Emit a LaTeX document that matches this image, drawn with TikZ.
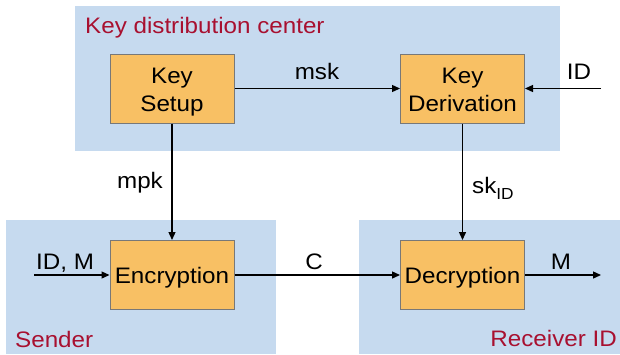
\documentclass[tikz,border=0pt]{standalone}
\usepackage{fontspec}
\setmainfont{Liberation Sans}[FakeStretch=1.08]
\usetikzlibrary{arrows.meta}
\definecolor{bgblue}{RGB}{198,218,239}
\definecolor{boxorange}{RGB}{248,192,100}
\definecolor{boxgray}{RGB}{120,120,120}
\definecolor{titlered}{RGB}{168,16,48}
\tikzset{
  procbox/.style={draw=boxgray, fill=boxorange, line width=1pt, minimum width=124pt, minimum height=69pt, inner sep=0pt},
  boxtext/.style={inner sep=0pt, anchor=base, text=black},
  grouptitle/.style={text=titlered, inner sep=0pt},
  lbl/.style={inner sep=0pt, text=black},
  arr/.style={-{Triangle[length=8pt,width=7pt]}, line width=1.3pt},
  area/.style={fill=bgblue}
}
\begin{document}
\begin{tikzpicture}[x=1pt,y=-1pt, font=\fontsize{22.4}{27}\selectfont]
\useasboundingbox (0,0) rectangle (620,354);
% group areas
\fill[area] (75,6) rectangle (560,151);
\fill[area] (6,220) rectangle (276,354);
\fill[area] (359,220) rectangle (620,354);
% titles
\node[grouptitle, anchor=base west] (kdc) at (85,33.3) {Key distribution center};
\node[grouptitle, anchor=base west] (sender) at (15,347) {Sender};
\node[grouptitle, anchor=base east] (receiver) at (617,346.5) {Receiver ID};
% process boxes
\node[procbox] (setup) at (172,88.5) {};
\node[procbox] (deriv) at (462.5,88.5) {};
\node[procbox] (enc) at (172,275) {};
\node[procbox] (dec) at (462.5,275) {};
% box texts
\node[boxtext] (setupA) at (172,83.3) {Key};
\node[boxtext] (setupB) at (172,111) {Setup};
\node[boxtext] (derivA) at (462.5,83.3) {Key};
\node[boxtext] (derivB) at (462.5,111) {Derivation};
\node[boxtext] (enctxt) at (172,283) {Encryption};
\node[boxtext] (dectxt) at (462.5,283) {Decryption};
% free ends
\coordinate (idin) at (601,88.5);
\coordinate (idmin) at (34,275);
\coordinate (mout) at (601,275);
% connectors
\draw[arr] (setup) -- (deriv);
\draw[arr] (idin) -- (deriv);
\draw[arr] (setup) -- (enc);
\draw[arr] (deriv) -- (dec);
\draw[arr] (idmin) -- (enc);
\draw[arr] (enc) -- (dec);
\draw[arr] (dec) -- (mout);
% labels
\node[lbl, anchor=base] (msk) at (317,79) {msk};
\node[lbl, anchor=base] (idlbl) at (579,79) {ID};
\node[lbl, anchor=base east] (mpk) at (163,188) {mpk};
\node[lbl, anchor=base west] (skid) at (472,193) {sk\raisebox{-0.28em}{\fontsize{16}{16}\selectfont ID}};
\node[lbl, anchor=base west] (idm) at (36,269) {ID, M};
\node[lbl, anchor=base] (clbl) at (314,269) {C};
\node[lbl, anchor=base] (mlbl) at (561,269) {M};
\end{tikzpicture}
\end{document}
